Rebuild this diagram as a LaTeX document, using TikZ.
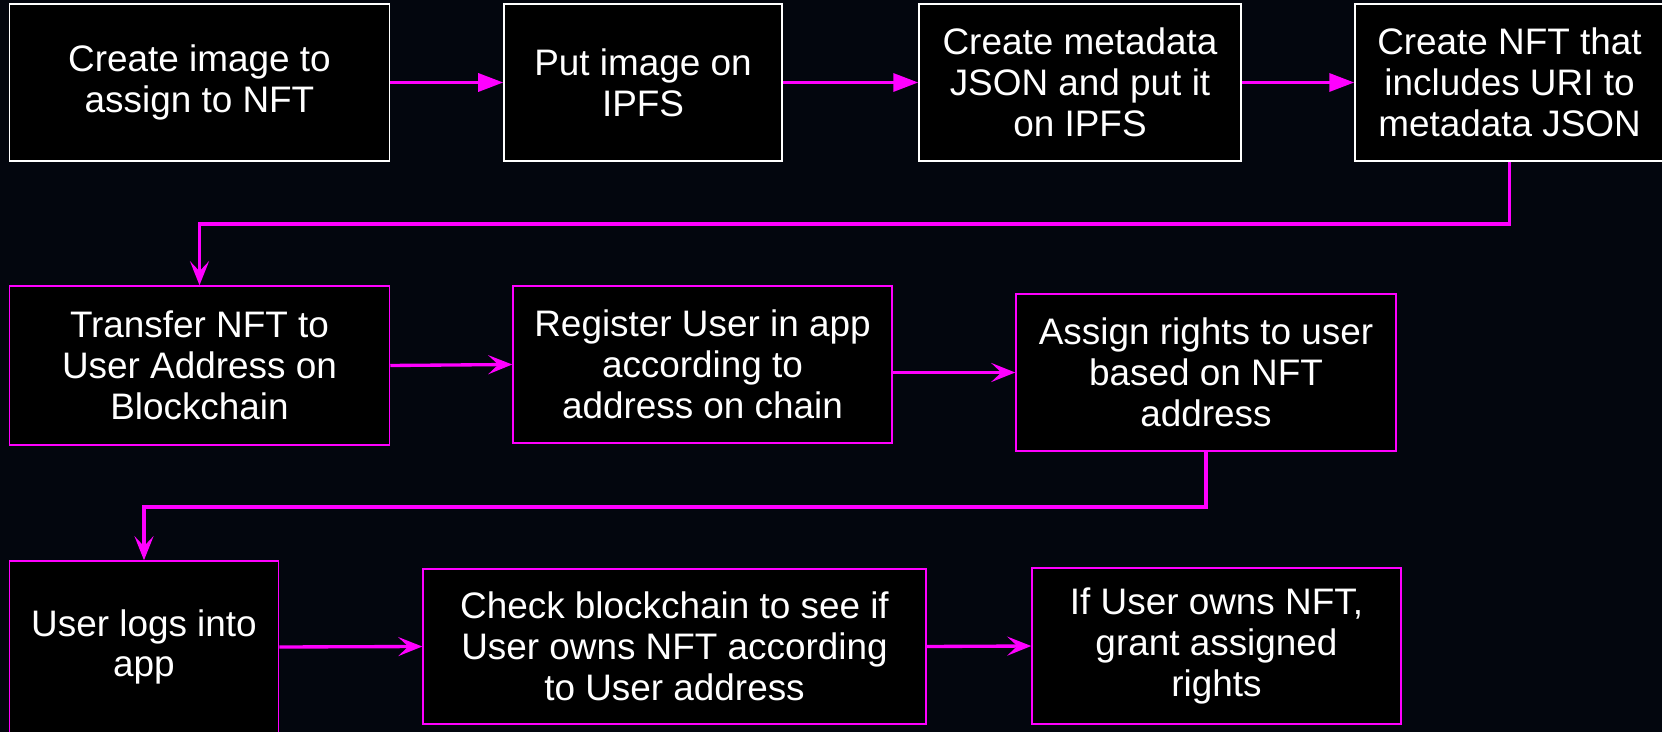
\documentclass[tikz,border=0pt]{standalone}
\usepackage{fontspec}
\setmainfont{Liberation Sans}
\usetikzlibrary{arrows.meta,positioning}
\definecolor{pagebg}{RGB}{3,6,14}
\definecolor{hot}{RGB}{255,0,255}

\begin{document}
\begin{tikzpicture}[x=0.02cm,y=-0.02cm,
every node/.style={rectangle,draw=hot,fill=black,line width=0.9pt,text=white,
  align=center,inner sep=0pt,minimum height=3.14cm,
  font=\fontsize{21}{23.2}\selectfont},
flow/.style={draw=hot,line width=1.9pt,-{Stealth[length=0.48cm,width=0.38cm,inset=0.2cm]}},
push/.style={draw=hot,line width=1.9pt,-{Triangle[length=0.5cm,width=0.36cm]}}]
\useasboundingbox[fill=pagebg] (0,0) rectangle (1662,732);
% first row
\node[draw=white,minimum width=7.6cm] (S1) at (199.5,82.5) {Create image to\\assign to NFT};
\node[draw=white,minimum width=5.56cm] (S2) at (643,82.5) {Put image on\\IPFS};
\node[draw=white,minimum width=6.44cm] (S3) at (1080,82.5) {Create metadata\\JSON and put it\\on IPFS};
\node[draw=white,minimum width=6.18cm] (S4) at (1509.5,82.5) {Create NFT that\\includes URI to\\metadata JSON};
% second row
\node[minimum width=7.6cm,minimum height=3.18cm] (S5) at (199.5,365.5) {Transfer NFT to\\User Address on\\Blockchain};
\node[minimum width=7.58cm] (S6) at (702.5,364.5) {Register User in app\\according to\\address on chain};
\node[minimum width=7.6cm] (S7) at (1206,372.5) {Assign rights to user\\based on NFT\\address};
% third row
\node[minimum width=5.38cm,minimum height=3.44cm] (S8) at (144,647) {User logs into\\app};
\node[minimum width=10.06cm,minimum height=3.1cm] (S9) at (674.5,646.5) {Check blockchain to see if\\User owns NFT according\\to User address};
\node[minimum width=7.38cm,minimum height=3.12cm] (S10) at (1216.5,646) {If User owns NFT,\\grant assigned\\rights};
\coordinate (T1) at (0,224);
\coordinate (T2) at (0,507);
\draw[push] (S1.east)--(S2.west);
\draw[push] (S2.east)--(S3.west);
\draw[push] (S3.east)--(S4.west);
\draw[flow] (S4.south)--(S4.south |- T1)-|(S5.north);
\draw[flow] (S5.east)--(S6.west);
\draw[flow] (S7.west -| S6.east)--(S7.west);
\draw[flow] (S7.south)--(S7.south |- T2)-|(S8.north);
\draw[flow] (S8.east)--(S9.west);
\draw[flow] (S9.east)--(S10.west);
\end{tikzpicture}
\end{document}
